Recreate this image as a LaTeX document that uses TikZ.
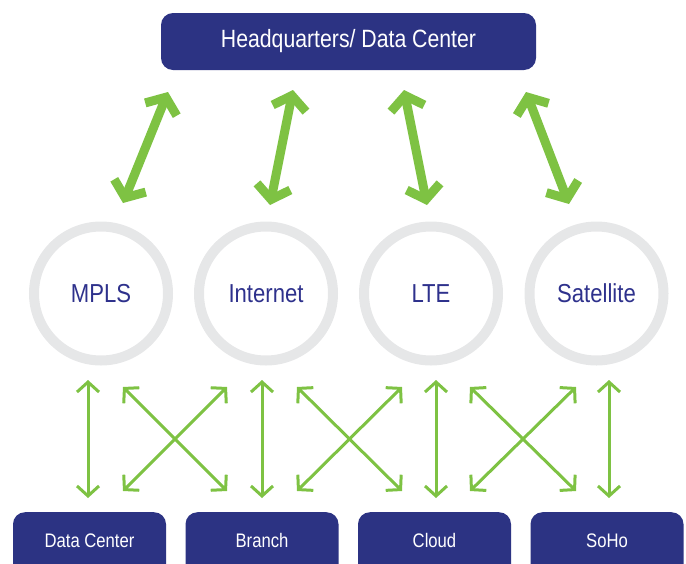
\documentclass[tikz,border=0pt]{standalone}
\usepackage{fontspec}
\setmainfont{Liberation Sans}[FakeStretch=0.85]
\usetikzlibrary{arrows.meta}
\definecolor{navy}{RGB}{44,51,131}
\definecolor{lgreen}{RGB}{126,194,67}
\definecolor{ringgray}{RGB}{230,231,232}
\definecolor{txtblue}{RGB}{46,49,140}
\begin{document}
\begin{tikzpicture}[x=1pt,y=-1pt,
 hqbox/.style={fill=navy, rounded corners=12pt, minimum width=375pt, minimum height=57pt, inner sep=0pt, text=white, font=\fontsize{25}{30}\selectfont},
 ring/.style={circle, draw=ringgray, line width=10pt, minimum size=134pt, inner sep=0pt, text=txtblue, font=\fontsize{26}{30}\selectfont},
 sitebox/.style={fill=navy, rounded corners=12pt, minimum width=153pt, text height=35pt, text depth=29pt, inner sep=0pt, anchor=north, text=white, font=\fontsize{19.6}{23}\selectfont},
 bigarrow/.style={draw=lgreen, line width=9pt, {Straight Barb[length=13pt,width=34pt]}-{Straight Barb[length=13pt,width=34pt]}},
 thinarrow/.style={draw=lgreen, line width=3pt, {Straight Barb[length=10pt,width=22pt]}-{Straight Barb[length=10pt,width=22pt]}}]
\useasboundingbox (0,0) rectangle (686,563);
\clip (0,0) rectangle (686,563);

\node[hqbox] (hq) at (348.5,41.5) {Headquarters/ Data Center};

\node[ring] (mpls) at (101,293.5) {MPLS};
\node[ring] (inet) at (266,293.5) {Internet};
\node[ring] (lte) at (431,293.5) {LTE};
\node[ring] (sat) at (596.5,293.5) {Satellite};

\node[sitebox] (dc) at (89.5,512) {Data Center};
\node[sitebox] (br) at (262,512) {Branch};
\node[sitebox] (cl) at (434.5,512) {Cloud};
\node[sitebox] (so) at (607,512) {SoHo};

% thick arrows
\coordinate (a1t) at (168,92);  \coordinate (a1b) at (123,203);
\coordinate (a2t) at (293,90);  \coordinate (a2b) at (270,205);
\coordinate (a3t) at (404,90);  \coordinate (a3b) at (427,205);
\coordinate (a4t) at (526,92);  \coordinate (a4b) at (569,204);
\draw[bigarrow] (a1t) -- (a1b);
\draw[bigarrow] (a2t) -- (a2b);
\draw[bigarrow] (a3t) -- (a3b);
\draw[bigarrow] (a4t) -- (a4b);

% thin vertical arrows
\foreach \n/\x in {v1/88, v2/262, v3/436, v4/609}{
  \coordinate (\n t) at (\x,380);
  \coordinate (\n b) at (\x,498);
  \draw[thinarrow] (\n t) -- (\n b);
}
% crossing arrows
\foreach \n/\l/\r in {c1/123/227, c2/297/402, c3/470/576}{
  \coordinate (\n tl) at (\l,387);
  \coordinate (\n tr) at (\r,387);
  \coordinate (\n bl) at (\l,491);
  \coordinate (\n br) at (\r,491);
  \draw[thinarrow] (\n tl) -- (\n br);
  \draw[thinarrow] (\n tr) -- (\n bl);
}
\end{tikzpicture}
\end{document}
